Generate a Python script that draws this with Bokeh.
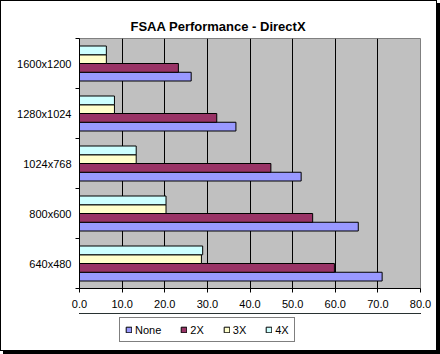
from bokeh.plotting import figure
from bokeh.layouts import column
from bokeh.models import ColumnDataSource, FixedTicker, Legend, LegendItem, Range1d, PrintfTickFormatter
from bokeh.transform import dodge
from bokeh.embed import file_html
from bokeh.resources import INLINE

categories = ["640x480", "800x600", "1024x768", "1280x1024", "1600x1200"]
series = ["None", "2X", "3X", "4X"]
none_fps = [71.0, 65.4, 52.0, 36.7, 26.2]
x2_fps = [59.8, 54.7, 44.9, 32.2, 23.2]
x3_fps = [28.6, 20.3, 13.3, 8.2, 6.3]
x4_fps = [28.9, 20.3, 13.3, 8.2, 6.3]
x_ticks = [0, 10, 20, 30, 40, 50, 60, 70, 80]
colors = ["#9999FF", "#993366", "#FFFFCC", "#CCFFFF"]

FONT = "Liberation Sans"
n = len(categories)
src = ColumnDataSource(dict(
    pos=[k + 0.5 for k in range(n)],
    s0=none_fps, s1=x2_fps, s2=x3_fps, s3=x4_fps,
))

p = figure(width=435, height=312, x_range=Range1d(0, 80), y_range=Range1d(0, n),
           output_backend="svg", toolbar_location=None,
           min_border_left=78, min_border_right=16, min_border_top=37, min_border_bottom=25,
           title="FSAA Performance - DirectX")
p.title.align = "left"
p.title.offset = 51
p.title.text_font = FONT
p.title.text_font_size = "13px"
p.title.text_font_style = "bold"
p.title.text_color = "black"
p.background_fill_color = "#C0C0C0"
p.border_fill_color = "white"
p.outline_line_color = "#808080"

bh = 0.175
offsets = [-1.5 * bh, -0.5 * bh, 0.5 * bh, 1.5 * bh]
for i, name in enumerate(series):
    p.hbar(y=dodge("pos", offsets[i]), right="s%d" % i, left=0, height=bh, source=src,
           fill_color=colors[i], line_color="black", line_width=1)

# x axis
p.xaxis.ticker = FixedTicker(ticks=x_ticks)
p.xaxis.formatter = PrintfTickFormatter(format="%.1f")
p.xaxis.major_tick_in = 0
p.xaxis.major_tick_out = 4
p.xaxis.minor_tick_line_color = None
p.xaxis.axis_line_color = "black"
p.xaxis.major_label_standoff = 7
p.xaxis.major_label_text_font = FONT
p.xaxis.major_label_text_font_size = "11px"
p.xaxis.major_label_text_color = "black"

# y axis
p.yaxis.ticker = FixedTicker(ticks=[k + 0.5 for k in range(n)], minor_ticks=list(range(n + 1)))
p.yaxis.major_label_overrides = {k + 0.5: c for k, c in enumerate(categories)}
p.yaxis.major_tick_in = 0
p.yaxis.major_tick_out = 0
p.yaxis.minor_tick_in = 0
p.yaxis.minor_tick_out = 4
p.yaxis.minor_tick_line_color = "black"
p.yaxis.axis_line_color = "black"
p.yaxis.major_label_standoff = 4
p.yaxis.major_label_text_font = FONT
p.yaxis.major_label_text_font_size = "11px"
p.yaxis.major_label_text_color = "black"

p.ygrid.visible = False
p.xgrid.ticker = FixedTicker(ticks=x_ticks[1:-1])
p.xgrid.grid_line_color = "black"
p.xgrid.grid_line_width = 1

# legend strip (its frame is aligned with the main frame by the column layout)
lf = figure(width=435, height=37, x_range=Range1d(0, 1), y_range=Range1d(-20, -19),
            output_backend="svg", toolbar_location=None,
            x_axis_location=None, y_axis_location=None,
            min_border_left=0, min_border_right=0, min_border_top=0, min_border_bottom=0)
lf.outline_line_color = None
lf.xgrid.visible = False
lf.ygrid.visible = False
lf.background_fill_color = "white"
lf.border_fill_color = "white"
lrends = [lf.hbar(y="pos", right="s%d" % i, left=0, height=bh, source=src,
                  fill_color=colors[i], line_color="black", line_width=1)
          for i in range(len(series))]

legend = Legend(items=[LegendItem(label=s, renderers=[lrends[i]]) for i, s in enumerate(series)],
                orientation="horizontal", location=(40, 8))
legend.glyph_width = 7
legend.glyph_height = 7
legend.label_width = 0
legend.label_height = 13
legend.label_standoff = 3
legend.spacing = 19
legend.padding = 5
legend.margin = 0
legend.border_line_color = "black"
legend.border_line_width = 1
legend.background_fill_color = "white"
legend.background_fill_alpha = 1
legend.label_text_font = FONT
legend.label_text_font_size = "11px"
legend.label_text_color = "black"
lf.add_layout(legend)

layout = column(p, lf, spacing=0)
layout.styles = {"border": "1px solid black", "box-shadow": "3px 3px 0 0 black",
                 "background": "white"}

open("out.html", "w").write(file_html(layout, INLINE))
